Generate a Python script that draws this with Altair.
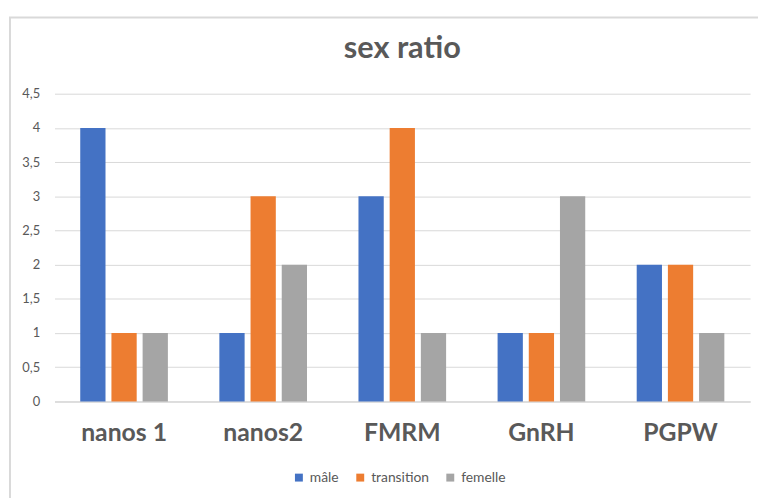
import altair as alt
import pandas as pd

categories = ["nanos 1", "nanos2", "FMRM", "GnRH", "PGPW"]
series = ["mâle", "transition", "femelle"]
male = [4, 1, 3, 1, 2]
transition = [1, 3, 4, 1, 2]
femelle = [1, 2, 1, 3, 1]
colors = ["#4472C4", "#ED7D31", "#A5A5A5"]

rows = []
for name, vals in zip(series, [male, transition, femelle]):
    for c, v in zip(categories, vals):
        rows.append({"cat": c, "serie": name, "value": v})
df = pd.DataFrame(rows)

FONT = "Lato"
GREY = "#595959"

bars = alt.Chart(df).mark_bar().encode(
    x=alt.X("cat:N", sort=categories, title=None,
            scale=alt.Scale(paddingInner=0.37, paddingOuter=0.185),
            axis=alt.Axis(labelAngle=0, labelFontSize=25, labelFontWeight="bold",
                          labelColor=GREY, labelFont=FONT, ticks=False,
                          domainColor="#D9D9D9", domainWidth=1.5, labelPadding=20)),
    xOffset=alt.XOffset("serie:N", sort=series,
                        scale=alt.Scale(paddingInner=0.19, paddingOuter=0)),
    y=alt.Y("value:Q", title=None,
            scale=alt.Scale(domain=[0, 4.5], nice=False),
            axis=alt.Axis(values=[0, 0.5, 1, 1.5, 2, 2.5, 3, 3.5, 4, 4.5],
                          format=".1~f", labelExpr="replace(datum.label, '.', ',')",
                          labelFontSize=13, labelColor=GREY, labelFont=FONT,
                          ticks=False, domain=False, gridColor="#D9D9D9",
                          labelPadding=15)),
    color=alt.Color("serie:N", sort=series,
                    scale=alt.Scale(domain=series, range=colors),
                    legend=alt.Legend(orient="none", direction="horizontal",
                                      legendX=240, legendY=381, padding=0,
                                      title=None, symbolType="square",
                                      symbolSize=64, labelFontSize=14, labelColor=GREY,
                                      labelFont=FONT, columnPadding=14,
                                      symbolStrokeWidth=0)),
)

frame_data = alt.Data(values=[{}])
frame_left = alt.Chart(frame_data).mark_rule(color="#D9D9D9", strokeWidth=2).encode(
    x=alt.value(-45), y=alt.value(-77), y2=alt.value(420))
frame_top = alt.Chart(frame_data).mark_rule(color="#D9D9D9", strokeWidth=2).encode(
    x=alt.value(-46), x2=alt.value(720), y=alt.value(-77))

chart = alt.layer(bars, frame_left, frame_top).properties(
    width=703, height=311,
    title=alt.TitleParams("sex ratio", fontSize=31, font=FONT, fontWeight="bold",
                          color=GREY, anchor="middle", offset=22, dy=71),
    autosize=alt.AutoSizeParams(type="none"),
    padding={"left": 47, "top": 84, "right": 8, "bottom": 95},
).configure_view(stroke=None)

chart.save("out.html", embed_options={"renderer": "svg", "actions": False})
